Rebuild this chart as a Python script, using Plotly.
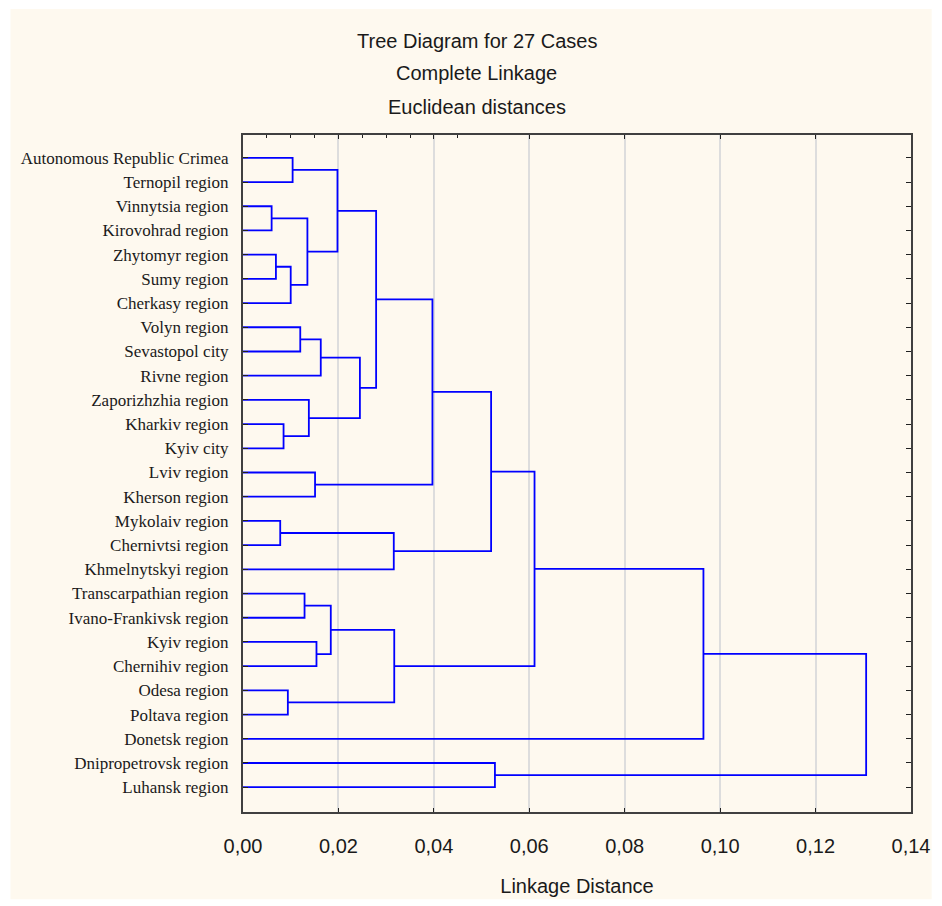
import plotly.graph_objects as go

# ---- data ----
leaf_labels = [
    "Autonomous Republic Crimea", "Ternopil region", "Vinnytsia region",
    "Kirovohrad region", "Zhytomyr region", "Sumy region", "Cherkasy region",
    "Volyn region", "Sevastopol city", "Rivne region", "Zaporizhzhia region",
    "Kharkiv region", "Kyiv city", "Lviv region", "Kherson region",
    "Mykolaiv region", "Chernivtsi region", "Khmelnytskyi region",
    "Transcarpathian region", "Ivano-Frankivsk region", "Kyiv region",
    "Chernihiv region", "Odesa region", "Poltava region", "Donetsk region",
    "Dnipropetrovsk region", "Luhansk region",
]
# merges: children ids (leaves 0..26, clusters 27+k) and linkage distances
merge_left = [2, 4, 15, 11, 22, 28, 0, 7, 18, 27, 10, 13, 20, 34, 35, 33, 40, 42, 29, 41, 44, 47, 25, 48, 50, 51]
merge_right = [3, 5, 16, 12, 23, 6, 1, 8, 19, 32, 30, 14, 21, 9, 39, 36, 37, 43, 17, 31, 38, 45, 26, 46, 24, 49]
merge_dist = [0.0060, 0.0069, 0.0078, 0.0085, 0.0094, 0.0100, 0.0104, 0.0120,
              0.0129, 0.0135, 0.0138, 0.0151, 0.0154, 0.0163, 0.0184, 0.0198,
              0.0245, 0.0279, 0.0316, 0.0317, 0.0397, 0.0520, 0.0528, 0.0611,
              0.0965, 0.1306]
x_ticks = [0.00, 0.02, 0.04, 0.06, 0.08, 0.10, 0.12, 0.14]
top_minor_ticks = [0.005, 0.010, 0.015, 0.025, 0.030, 0.035, 0.045]

title_lines = ["Tree Diagram for 27 Cases", "Complete Linkage", "Euclidean distances"]

# ---- build dendrogram segments ----
n = len(leaf_labels)
pos = {i: float(i) for i in range(n)}
hgt = {i: 0.0 for i in range(n)}
xs, ys = [], []
for k, (a, b, d) in enumerate(zip(merge_left, merge_right, merge_dist)):
    xs += [hgt[a], d, d, hgt[b], None]
    ys += [pos[a], pos[a], pos[b], pos[b], None]
    node = n + k
    pos[node] = (pos[a] + pos[b]) / 2
    hgt[node] = d

fig = go.Figure()
fig.add_trace(go.Scatter(x=xs, y=ys, mode="lines",
                         line=dict(color="#0000ff", width=1.8),
                         hoverinfo="skip", showlegend=False))
# invisible trace for top minor ticks axis
fig.add_trace(go.Scatter(x=[0, 0.14], y=[0, 0], xaxis="x2", mode="markers",
                         marker=dict(opacity=0), hoverinfo="skip", showlegend=False))

sans = "Liberation Sans, Arial, sans-serif"
W, H = 942, 906
L, R, T, B = 243, 21, 135, 89
PW, PH = W - L - R, H - T - B

fig.update_layout(
    width=W, height=H,
    paper_bgcolor="#ffffff",
    plot_bgcolor="#ffffff",
    margin=dict(l=L, r=R, t=T, b=B),
    separators=",.",
    showlegend=False,
    shapes=[dict(type="rect", xref="paper", yref="paper", layer="below",
                 x0=-(L - 7) / PW, x1=1 + R / PW,
                 y0=-(B - 1) / PH, y1=1 + (T - 8) / PH,
                 fillcolor="#fef9ef", line=dict(width=0))],
    xaxis=dict(
        range=[0, 0.14], tickvals=x_ticks, tickformat=".2f",
        showgrid=True, gridcolor="#dddddd", gridwidth=1.5,
        zeroline=False, showline=True, linecolor="#404040", linewidth=2,
        mirror="ticks", ticks="inside", ticklen=4, tickcolor="#202020",
        tickfont=dict(family=sans, size=20, color="#1a1a1a"),
        ticklabelstandoff=15, ticklabeloverflow="allow",
        title=dict(text="Linkage Distance", standoff=23,
                   font=dict(family=sans, size=20, color="#1a1a1a")),
    ),
    xaxis2=dict(
        range=[0, 0.14], overlaying="x", side="top", tickvals=top_minor_ticks,
        ticks="inside", ticklen=3, tickcolor="#202020", showticklabels=False,
        showgrid=False, zeroline=False, showline=False,
    ),
    yaxis=dict(
        range=[n - 1 + 1.025, -0.943],
        tickvals=list(range(n)), ticktext=leaf_labels,
        showgrid=False, zeroline=False, showline=True, linecolor="#404040",
        linewidth=2, mirror="ticks", ticks="inside", ticklen=5, tickcolor="#202020",
        tickfont=dict(family="Liberation Serif, Times New Roman, serif",
                      size=17, color="#1a1a1a"),
        ticklabelstandoff=9,
    ),
    annotations=[
        dict(text=t, xref="paper", yref="paper", x=(480 - L) / PW,
             y=1 + (T - yc) / PH, xanchor="center", yanchor="middle",
             showarrow=False, font=dict(family=sans, size=20, color="#1a1a1a"))
        for t, yc in zip(title_lines, [40, 73, 107])
    ],
)

fig.write_html("out.html", config={"displayModeBar": False},
               post_script="document.body.style.margin='0';")
